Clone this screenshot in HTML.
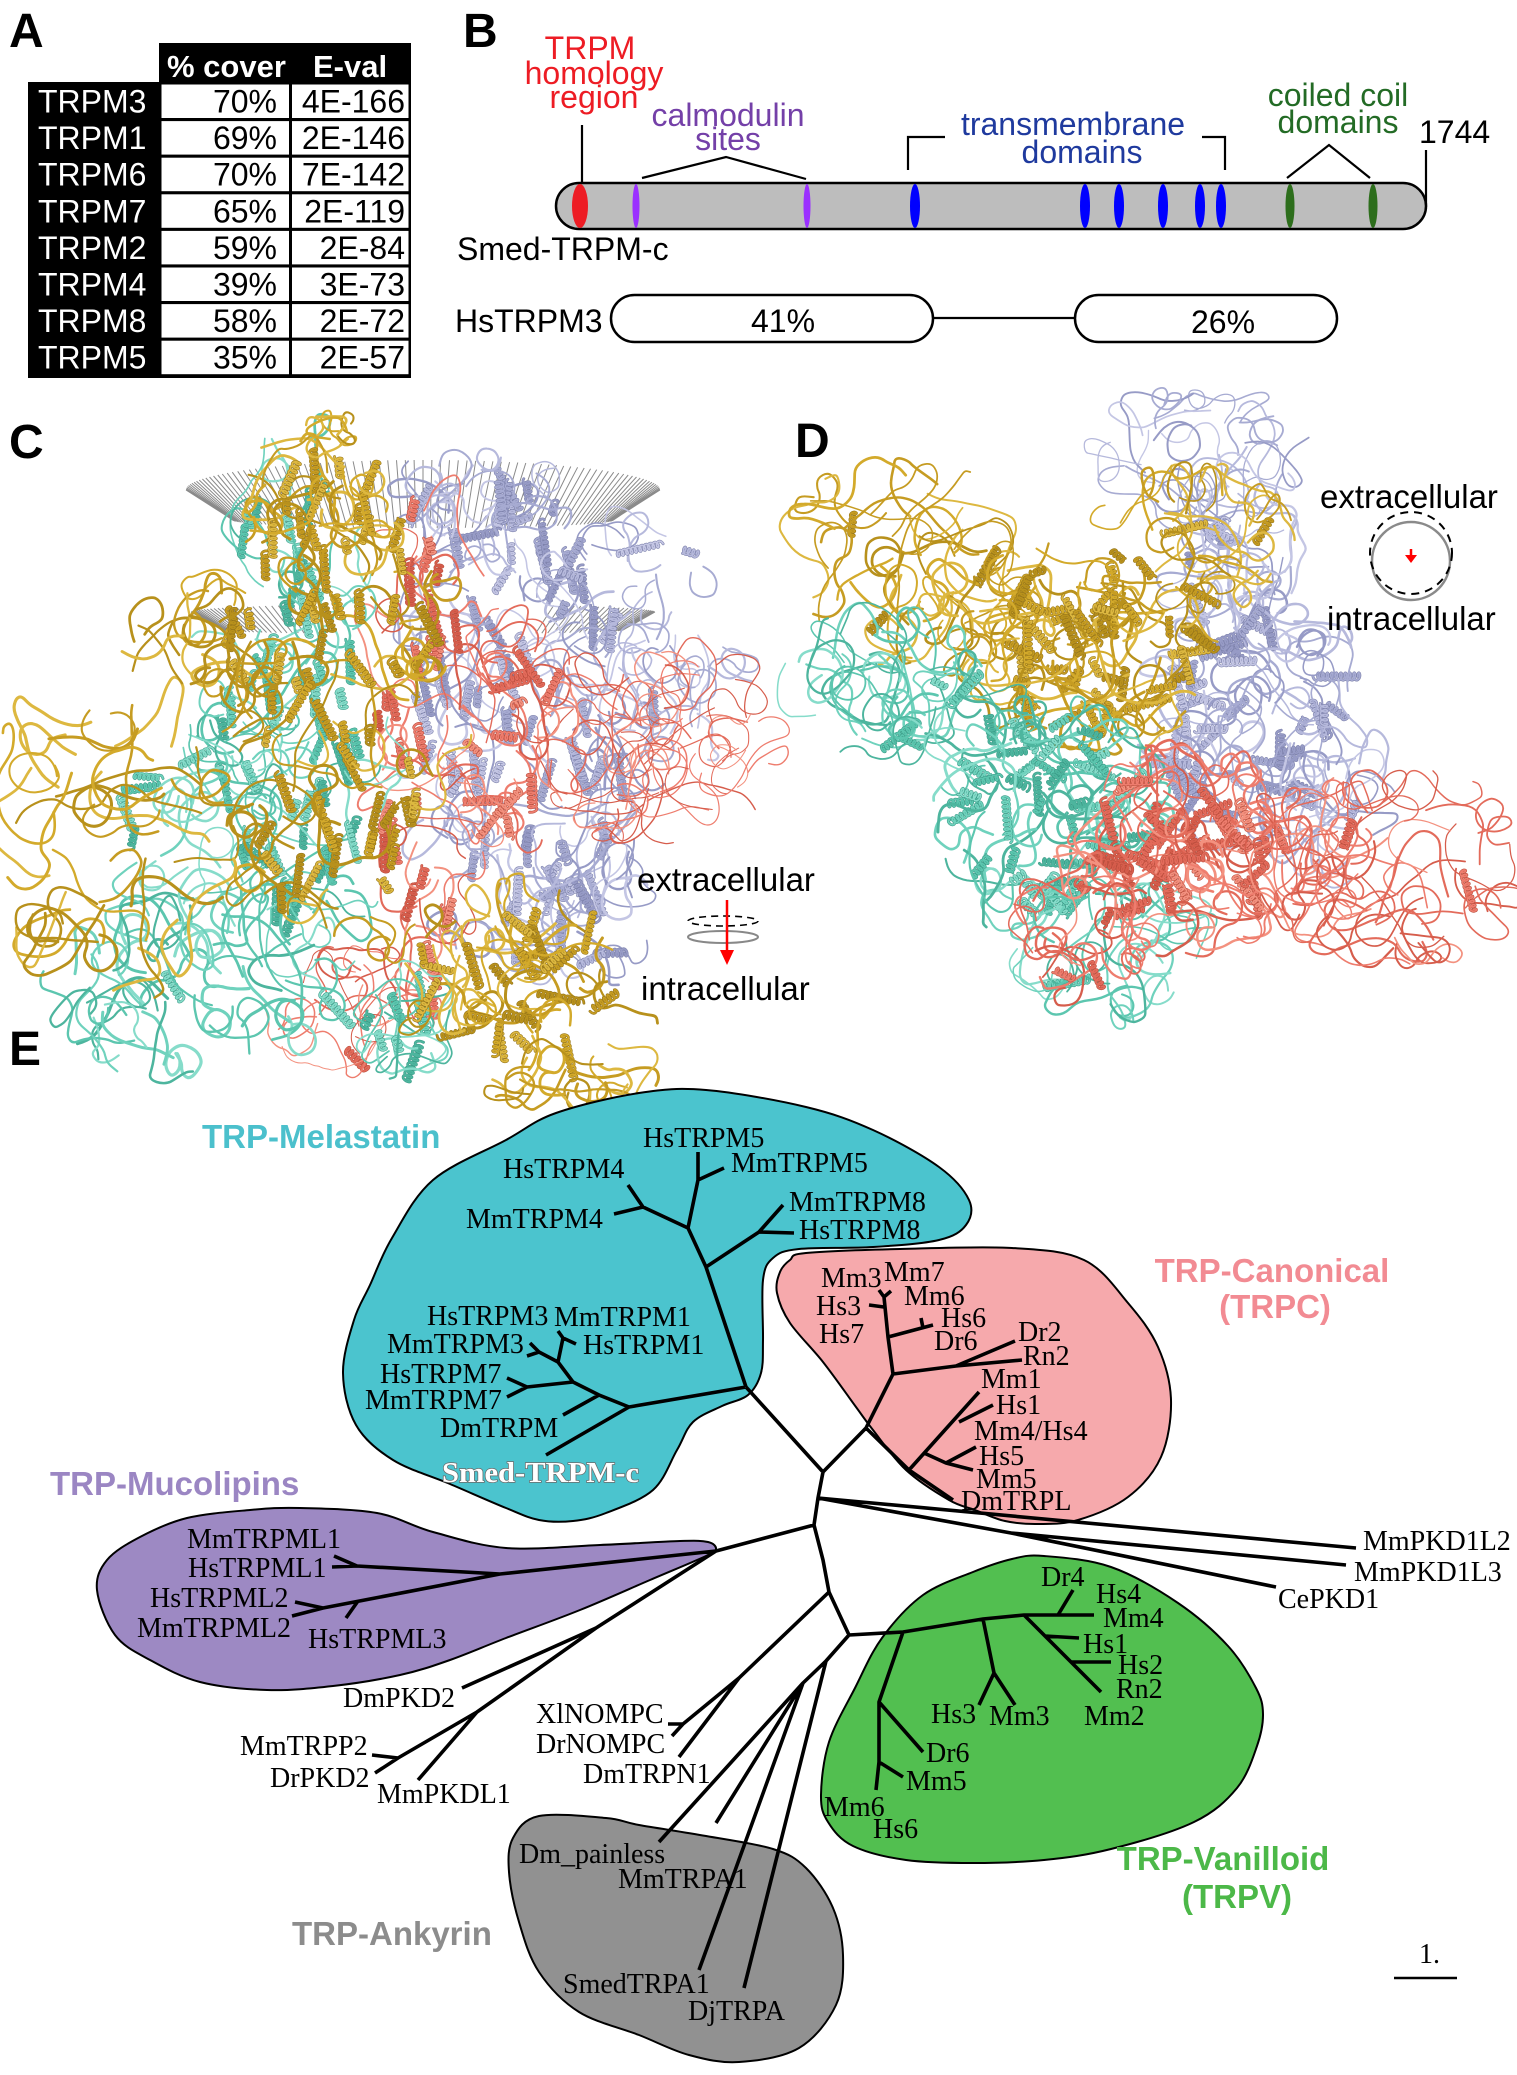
<!DOCTYPE html>
<html><head><meta charset="utf-8">
<style>
html,body{margin:0;padding:0;background:#fff;}
svg{display:block;}
.s{font-family:"Liberation Sans",Arial,sans-serif;}
.t{font-family:"Liberation Serif","Times New Roman",serif;font-size:28px;fill:#000;}
.g{font-family:"Liberation Sans",Arial,sans-serif;font-weight:bold;font-size:33px;}
.w{fill:#fff;font-family:"Liberation Sans",Arial,sans-serif;font-size:32px;}
.k{fill:#000;font-family:"Liberation Sans",Arial,sans-serif;font-size:32px;}
</style></head><body>
<svg width="1517" height="2075" viewBox="0 0 1517 2075" xmlns="http://www.w3.org/2000/svg">
<rect x="0" y="0" width="1517" height="2075" fill="#fff"/>

<!-- ================= PANEL A ================= -->
<text x="9" y="47" class="s" font-weight="bold" font-size="48">A</text>
<rect x="159" y="43" width="252" height="335" fill="#000"/>
<rect x="28" y="82" width="133" height="296" fill="#000"/>
<g fill="#fff">
<rect x="161.5" y="84.5" width="127.5" height="33.5"/><rect x="292" y="84.5" width="116.5" height="33.5"/>
<rect x="161.5" y="121.1" width="127.5" height="33.5"/><rect x="292" y="121.1" width="116.5" height="33.5"/>
<rect x="161.5" y="157.7" width="127.5" height="33.5"/><rect x="292" y="157.7" width="116.5" height="33.5"/>
<rect x="161.5" y="194.3" width="127.5" height="33.5"/><rect x="292" y="194.3" width="116.5" height="33.5"/>
<rect x="161.5" y="230.9" width="127.5" height="33.5"/><rect x="292" y="230.9" width="116.5" height="33.5"/>
<rect x="161.5" y="267.5" width="127.5" height="33.5"/><rect x="292" y="267.5" width="116.5" height="33.5"/>
<rect x="161.5" y="304.1" width="127.5" height="33.5"/><rect x="292" y="304.1" width="116.5" height="33.5"/>
<rect x="161.5" y="340.7" width="127.5" height="33.5"/><rect x="292" y="340.7" width="116.5" height="33.5"/>
</g>
<text x="167" y="77" class="s" font-weight="bold" font-size="31" fill="#fff">% cover</text>
<text x="313" y="77" class="s" font-weight="bold" font-size="31" fill="#fff">E-val</text>
<g class="w">
<text x="38" y="112.5">TRPM3</text><text x="38" y="149.1">TRPM1</text><text x="38" y="185.7">TRPM6</text><text x="38" y="222.3">TRPM7</text>
<text x="38" y="258.9">TRPM2</text><text x="38" y="295.5">TRPM4</text><text x="38" y="332.1">TRPM8</text><text x="38" y="368.7">TRPM5</text>
</g>
<g class="k" text-anchor="end">
<text x="277" y="112.5">70%</text><text x="277" y="149.1">69%</text><text x="277" y="185.7">70%</text><text x="277" y="222.3">65%</text>
<text x="277" y="258.9">59%</text><text x="277" y="295.5">39%</text><text x="277" y="332.1">58%</text><text x="277" y="368.7">35%</text>
<text x="405" y="112.5">4E-166</text><text x="405" y="149.1">2E-146</text><text x="405" y="185.7">7E-142</text><text x="405" y="222.3">2E-119</text>
<text x="405" y="258.9">2E-84</text><text x="405" y="295.5">3E-73</text><text x="405" y="332.1">2E-72</text><text x="405" y="368.7">2E-57</text>
</g>

<!-- ================= PANEL B ================= -->
<text x="463" y="47" class="s" font-weight="bold" font-size="48">B</text>
<g class="s" font-size="32" text-anchor="middle">
<text x="590" y="59" fill="#ed1c24">TRPM</text>
<text x="594" y="84" fill="#ed1c24">homology</text>
<text x="594" y="108" fill="#ed1c24">region</text>
<text x="728" y="126" fill="#7440a8">calmodulin</text>
<text x="728" y="150" fill="#7440a8">sites</text>
<text x="1073" y="135" fill="#1f3a9e">transmembrane</text>
<text x="1082" y="163" fill="#1f3a9e">domains</text>
<text x="1338" y="106" fill="#236b25">coiled coil</text>
<text x="1338" y="133" fill="#236b25">domains</text>
</g>
<text x="1419" y="143" class="k" font-size="31">1744</text>
<g stroke="#000" stroke-width="2.2" fill="none">
<path d="M582 125 L582 185"/>
<path d="M642 178 L726 157 L806 179"/>
<path d="M908 170 L908 137 L945 137"/>
<path d="M1202 137 L1225 137 L1225 170"/>
<path d="M1287 178 L1329 145 L1370 178"/>
<path d="M1426 150 L1426 207"/>
</g>
<rect x="556" y="183" width="870" height="46" rx="23" ry="23" fill="#bdbdbd" stroke="#000" stroke-width="2.5"/>
<ellipse cx="580" cy="206" rx="8" ry="22" fill="#ed1c24"/>
<ellipse cx="636" cy="206" rx="3.5" ry="22" fill="#9b30ff"/>
<ellipse cx="807" cy="206" rx="3.5" ry="22" fill="#9b30ff"/>
<g fill="#0000ff">
<ellipse cx="915" cy="206" rx="5" ry="22"/><ellipse cx="1085" cy="206" rx="5" ry="22"/><ellipse cx="1119" cy="206" rx="5" ry="22"/>
<ellipse cx="1163" cy="206" rx="5" ry="22"/><ellipse cx="1200" cy="206" rx="5" ry="22"/><ellipse cx="1221" cy="206" rx="5" ry="22"/>
</g>
<ellipse cx="1290" cy="206" rx="4.5" ry="22" fill="#2d6e1c"/>
<ellipse cx="1373" cy="206" rx="4.5" ry="22" fill="#2d6e1c"/>
<text x="457" y="260" class="k">Smed-TRPM-c</text>
<text x="455" y="332" class="k">HsTRPM3</text>
<rect x="611" y="295" width="322" height="47" rx="23.5" ry="23.5" fill="#fff" stroke="#000" stroke-width="2.5"/>
<path d="M933 318 L1075 318" stroke="#000" stroke-width="2.2"/>
<rect x="1075" y="295" width="262" height="47" rx="23.5" ry="23.5" fill="#fff" stroke="#000" stroke-width="2.5"/>
<text x="783" y="332" class="k" text-anchor="middle">41%</text>
<text x="1223" y="333" class="k" text-anchor="middle">26%</text>

<!-- ================= PANELS C / D ================= -->
<text x="9" y="458" class="s" font-weight="bold" font-size="48">C</text>
<text x="795" y="457" class="s" font-weight="bold" font-size="48">D</text>
<path id="hatch" d="" stroke="#8a8a8a" stroke-width="1" fill="none"/>
<g id="pC"></g>
<g id="pD"></g>

<text x="637" y="891" class="s" font-size="33">extracellular</text>
<text x="641" y="1000" class="s" font-size="33">intracellular</text>
<ellipse cx="723" cy="921" rx="35" ry="5" fill="none" stroke="#000" stroke-width="1.6" stroke-dasharray="7 5"/>
<ellipse cx="723" cy="937" rx="35" ry="6" fill="none" stroke="#888" stroke-width="2"/>
<path d="M727 900 L727 952" stroke="#ff0000" stroke-width="2.5"/>
<path d="M720 950 L734 950 L727 965 Z" fill="#ff0000"/>

<text x="1320" y="508" class="s" font-size="33">extracellular</text>
<text x="1327" y="630" class="s" font-size="33">intracellular</text>
<circle cx="1411" cy="561" r="39" fill="none" stroke="#8a8a8a" stroke-width="2.5"/>
<circle cx="1411" cy="553" r="41" fill="none" stroke="#000" stroke-width="2" stroke-dasharray="8 6"/>
<path d="M1411 549 L1411 557" stroke="#ff0000" stroke-width="2.5"/>
<path d="M1405 555 L1417 555 L1411 563 Z" fill="#ff0000"/>

<!-- ================= PANEL E ================= -->
<text x="9" y="1065" class="s" font-weight="bold" font-size="48">E</text>

<g stroke="#000" stroke-width="2" stroke-linejoin="round">
<path id="bTeal" fill="#4bc4ce" d="M506 1140 L556 1113 L639 1093 L706 1090 L806 1107 L873 1130 L939 1167 L969 1200 L966 1225 L939 1240 L873 1247 L799 1249 L773 1258 L763 1280 L763 1340 L761 1373 L748 1395 L722 1406 L693 1422 L677 1450 L653 1490 L606 1513 L573 1521 L539 1520 L506 1508 L450 1484 L393 1460 L356 1425 L343 1373 L354 1320 L370 1285 L392 1238 L433 1180 Z"/>
<path id="bPink" fill="#f6a9ac" d="M806 1253 L900 1249 L1012 1248 L1084 1260 L1128 1303 L1158 1347 L1171 1400 L1161 1457 L1128 1497 L1078 1520 L1038 1524 L1005 1521 L975 1510 L949 1500 L906 1470 L873 1430 L856 1407 L823 1362 L790 1323 L777 1293 L780 1272 L790 1260 Z"/>
<path id="bPurp" fill="#9d89c3" d="M97 1590 L107 1560 L140 1537 L187 1518 L250 1510 L300 1508 L377 1513 L433 1532 L506 1548 L600 1545 L680 1541 L708 1542 L716 1549 L706 1556 L650 1580 L580 1610 L506 1638 L450 1660 L400 1675 L333 1686 L267 1690 L200 1682 L150 1660 L115 1635 Z"/>
<path id="bGreen" fill="#52bf50" d="M923 1595 L973 1572 L1012 1559 L1044 1556 L1111 1567 L1178 1603 L1228 1646 L1256 1688 L1263 1714 L1257 1746 L1237 1788 L1194 1822 L1111 1849 L1044 1860 L973 1863 L906 1860 L853 1846 L828 1822 L821 1795 L829 1742 L855 1688 L882 1638 Z"/>
<path id="bGray" fill="#919191" d="M513 1838 L539 1816 L606 1818 L639 1825 L706 1836 L773 1849 L806 1868 L833 1908 L843 1955 L836 2005 L799 2048 L739 2062 L689 2055 L639 2035 L579 2012 L539 1972 L519 1922 L509 1872 Z"/>
</g>

<path fill="none" stroke="#000" stroke-width="3.6" stroke-linejoin="round" stroke-linecap="butt" d="
M746 1387 L823 1472 L818 1498 L814 1525 L823 1560 L829 1592 L849 1635
M746 1387 L706 1267 L688 1228 L698 1180 L698 1152
M698 1180 L724 1168
M688 1228 L643 1207 L628 1185
M643 1207 L614 1214
M706 1267 L759 1232 L783 1205
M759 1232 L794 1233
M746 1387 L629 1407 L546 1455
M629 1407 L599 1395 L563 1415
M599 1395 L573 1382 L527 1387 L507 1378
M527 1387 L507 1397
M573 1382 L558 1362 L539 1352 L530 1343
M539 1352 L527 1356
M558 1362 L563 1338 L558 1331
M563 1338 L576 1344
M823 1472 L866 1428 L893 1374
M893 1374 L956 1366 L1015 1341
M956 1366 L1022 1360
M893 1374 L888 1337 L884 1297 L879 1290
M884 1297 L891 1291
M884 1307 L869 1305
M888 1337 L933 1325
M923 1328 L921 1318
M866 1428 L909 1470 L953 1500
M909 1470 L979 1392
M959 1422 L993 1405
M924 1453 L946 1463 L976 1447
M946 1463 L973 1470
M818 1498 L1356 1548
M818 1498 L1011 1533 L1346 1565
M1011 1533 L1276 1587
M814 1525 L716 1551 L500 1574 L357 1566 L334 1556
M357 1566 L332 1567
M500 1574 L323 1608 L295 1602
M323 1608 L292 1616
M358 1601 L346 1618
M716 1551 L596 1628 L462 1688
M596 1628 L477 1712 L398 1758 L372 1755
M398 1758 L375 1773
M477 1712 L418 1780
M829 1592 L739 1678 L683 1724 L668 1724
M683 1724 L672 1736
M739 1678 L679 1757
M849 1635 L826 1661 L803 1683 L659 1842
M803 1683 L716 1823
M803 1683 L699 1970
M826 1661 L744 1988
M849 1635 L903 1632 L983 1619 L1024 1615 L1094 1615
M1058 1615 L1073 1590
M1024 1615 L1101 1692
M1045 1636 L1079 1638
M1071 1662 L1111 1662
M983 1619 L994 1673 L979 1705
M994 1673 L1015 1705
M903 1632 L879 1702 L923 1752
M879 1702 L879 1762 L903 1777
M879 1762 L876 1790
"/>
<path d="M1394 1978 L1457 1978" stroke="#000" stroke-width="2.5"/>
<text x="1419" y="1963" class="t" font-size="34">1.</text>

<g class="t">
<text x="643" y="1147">HsTRPM5</text>
<text x="731" y="1172">MmTRPM5</text>
<text x="503" y="1178">HsTRPM4</text>
<text x="466" y="1228">MmTRPM4</text>
<text x="789" y="1211">MmTRPM8</text>
<text x="799" y="1239">HsTRPM8</text>
<text x="427" y="1325">HsTRPM3</text>
<text x="554" y="1326">MmTRPM1</text>
<text x="387" y="1353">MmTRPM3</text>
<text x="583" y="1354">HsTRPM1</text>
<text x="380" y="1383">HsTRPM7</text>
<text x="365" y="1409">MmTRPM7</text>
<text x="440" y="1437">DmTRPM</text>
<text x="821" y="1287">Mm3</text>
<text x="884" y="1281">Mm7</text>
<text x="904" y="1305">Mm6</text>
<text x="816" y="1315">Hs3</text>
<text x="941" y="1327">Hs6</text>
<text x="819" y="1343">Hs7</text>
<text x="934" y="1350">Dr6</text>
<text x="1018" y="1341">Dr2</text>
<text x="1023" y="1365">Rn2</text>
<text x="981" y="1388">Mm1</text>
<text x="996" y="1414">Hs1</text>
<text x="974" y="1440">Mm4/Hs4</text>
<text x="979" y="1465">Hs5</text>
<text x="976" y="1488">Mm5</text>
<text x="961" y="1510">DmTRPL</text>
<text x="187" y="1548">MmTRPML1</text>
<text x="188" y="1577">HsTRPML1</text>
<text x="150" y="1607">HsTRPML2</text>
<text x="137" y="1637">MmTRPML2</text>
<text x="308" y="1648">HsTRPML3</text>
<text x="1363" y="1550">MmPKD1L2</text>
<text x="1354" y="1581">MmPKD1L3</text>
<text x="1278" y="1608">CePKD1</text>
<text x="343" y="1707">DmPKD2</text>
<text x="240" y="1755">MmTRPP2</text>
<text x="270" y="1787">DrPKD2</text>
<text x="377" y="1803">MmPKDL1</text>
<text x="536" y="1723">XlNOMPC</text>
<text x="536" y="1753">DrNOMPC</text>
<text x="583" y="1783">DmTRPN1</text>
<text x="519" y="1863">Dm_painless</text>
<text x="618" y="1888">MmTRPA1</text>
<text x="563" y="1993">SmedTRPA1</text>
<text x="688" y="2020">DjTRPA</text>
<text x="1041" y="1586">Dr4</text>
<text x="1096" y="1603">Hs4</text>
<text x="1103" y="1627">Mm4</text>
<text x="1083" y="1653">Hs1</text>
<text x="1118" y="1674">Hs2</text>
<text x="1116" y="1698">Rn2</text>
<text x="1084" y="1725">Mm2</text>
<text x="931" y="1723">Hs3</text>
<text x="989" y="1725">Mm3</text>
<text x="926" y="1762">Dr6</text>
<text x="906" y="1790">Mm5</text>
<text x="824" y="1816">Mm6</text>
<text x="873" y="1838">Hs6</text>
</g>
<text x="442" y="1482" font-family="'Liberation Serif','Times New Roman',serif" font-weight="bold" font-size="28" fill="#ffffff" stroke="#6a6a6a" stroke-width="1.4" paint-order="stroke" textLength="197" lengthAdjust="spacingAndGlyphs">Smed-TRPM-c</text>

<text x="202" y="1148" class="g" fill="#4bc0cc">TRP-Melastatin</text>
<text x="1272" y="1282" class="g" fill="#f28b93" text-anchor="middle">TRP-Canonical</text>
<text x="1275" y="1318" class="g" fill="#f28b93" text-anchor="middle">(TRPC)</text>
<text x="50" y="1495" class="g" fill="#9b86c3">TRP-Mucolipins</text>
<text x="292" y="1945" class="g" fill="#8c8c8c">TRP-Ankyrin</text>
<text x="1223" y="1870" class="g" fill="#4cb848" text-anchor="middle">TRP-Vanilloid</text>
<text x="1237" y="1908" class="g" fill="#4cb848" text-anchor="middle">(TRPV)</text>
</svg>

<script>
(function(){
var NS='http://www.w3.org/2000/svg';
var seed=987654321;
function R(){seed=(Math.imul(seed,1664525)+1013904223)>>>0;return seed/4294967296;}
function f(v){return v.toFixed(1);}
function sm(pts){var d='M'+f(pts[0][0])+' '+f(pts[0][1]);if(pts.length<3){for(var i=1;i<pts.length;i++)d+='L'+f(pts[i][0])+' '+f(pts[i][1]);return d;}
for(var i=1;i<pts.length-1;i++){var mx=(pts[i][0]+pts[i+1][0])/2,my=(pts[i][1]+pts[i+1][1])/2;d+='Q'+f(pts[i][0])+' '+f(pts[i][1])+' '+f(mx)+' '+f(my);}
var l=pts[pts.length-1];d+='L'+f(l[0])+' '+f(l[1]);return d;}
function mk(g,d,col,w){var p=document.createElementNS(NS,'path');p.setAttribute('d',d);p.setAttribute('stroke',col);p.setAttribute('stroke-width',w.toFixed(2));p.setAttribute('fill','none');p.setAttribute('stroke-linecap','round');p.setAttribute('stroke-linejoin','round');g.appendChild(p);}
var PAL={g:['#d3aa2b','#c69c22','#ddb840','#b8911c'],t:['#6fd2bd','#5cc6af','#86dcca','#4db59e'],s:['#ee7d6e','#e36b5b','#f3917f','#d65d4c'],l:['#b6b9dc','#a7abd2','#c4c6e4','#979bc6']};
var DARK={g:'#94741a',t:'#3a9a86',s:'#b84c3b',l:'#7c80aa'};
function pick(c){var a=PAL[c];return a[Math.floor(R()*a.length)];}
function inE(s){var a=R()*6.2832,r=Math.sqrt(R());return [s.x+Math.cos(a)*r*s.rx,s.y+Math.sin(a)*r*s.ry];}
function coil(g,s){var p=inE(s),ang=R()*6.2832,om=(R()-0.5)*0.6,pts=[[p[0],p[1]]];var ln=s.len||[8,24];var n=ln[0]+R()*(ln[1]-ln[0]);var st=s.st||7;
for(var i=0;i<n;i++){om+=(R()-0.5)*0.6;if(om>0.6)om=0.6;if(om<-0.6)om=-0.6;if(R()<0.08)om*=-1;ang+=om;
var ex=(p[0]-s.x)/s.rx,ey=(p[1]-s.y)/s.ry;
if(ex*ex+ey*ey>1.5){var ta=Math.atan2(s.y-p[1],s.x-p[0]);var da=ta-ang;while(da>Math.PI)da-=6.2832;while(da<-Math.PI)da+=6.2832;ang+=da*0.35;}
var l=st*(0.6+R()*0.8);p[0]+=Math.cos(ang)*l;p[1]+=Math.sin(ang)*l;pts.push([p[0],p[1]]);}
var w=s.w[0]+R()*(s.w[1]-s.w[0]);mk(g,sm(pts),pick(s.c),w);}
function helix(g,s){var p=inE(s);var base=(s.ha!==undefined?s.ha+(R()-0.5)*(s.hs||1):R()*6.2832);
var dx=Math.cos(base),dy=Math.sin(base),px=-dy,py=dx;var L=14+R()*34;var amp=3+R()*1.5,om=0.7,k=0.5,c=2.2;var pts=[];
for(var t=0;t*k<=L;t+=1.0){var ph=t*om;var u=t*k-L/2+c*Math.cos(ph),v=amp*Math.sin(ph);pts.push([p[0]+dx*u+px*v,p[1]+dy*u+py*v]);}
var d=sm(pts);mk(g,d,DARK[s.c],2.8);mk(g,d,pick(s.c),1.7);}
function run(gid,spec,mult){var g=document.getElementById(gid);spec.forEach(function(s){var n=Math.round(s.n*mult);for(var i=0;i<n;i++){if(R()<(s.h||0))helix(g,s);else coil(g,s);}});}

/* membrane hatch in C */
var hd='';
for(var i=0;i<=84;i++){var th=Math.PI*i/84,c=Math.cos(th),s=Math.sin(th);
hd+='M'+f(423+237*c)+' '+f(490-30*s)+'L'+f(423+190*c)+' '+f(520+8*s);}
for(var i=0;i<=84;i++){var th=Math.PI*i/84,c=Math.cos(th),s=Math.sin(th);if(Math.abs(c)<0.55)continue;
hd+='M'+f(423+232*c)+' '+f(612-8*s)+'L'+f(423+200*c)+' '+f(630+4*s);}
document.getElementById('hatch').setAttribute('d',hd);

var C=[
{c:'l',x:525,y:720,rx:105,ry:240,n:100,h:0.45,ha:-1.57,hs:1.2,w:[1.5,2.8]},
{c:'l',x:640,y:650,rx:90,ry:120,n:30,h:0.1,w:[1.3,2.3]},
{c:'l',x:480,y:500,rx:70,ry:45,n:16,h:0.2,w:[1.5,2.5]},
{c:'l',x:590,y:880,rx:50,ry:90,n:22,h:0.3,w:[1.5,2.8]},
{c:'s',x:420,y:760,rx:45,ry:260,n:45,h:0.55,ha:-1.57,hs:0.6,w:[1.2,2.3]},
{c:'s',x:660,y:740,rx:100,ry:85,n:40,h:0.03,w:[1,1.6],st:8},
{c:'s',x:510,y:740,rx:55,ry:110,n:28,h:0.45,w:[1.2,2.3]},
{c:'s',x:350,y:1010,rx:70,ry:50,n:14,h:0.1,w:[1,2]},
{c:'t',x:300,y:700,rx:85,ry:230,n:75,h:0.45,ha:-1.57,hs:1.0,w:[1.5,2.8]},
{c:'t',x:210,y:985,rx:135,ry:75,n:34,h:0.08,w:[2,3.2],st:8},
{c:'t',x:190,y:820,rx:70,ry:120,n:22,h:0.15,w:[1.5,2.8]},
{c:'t',x:405,y:1020,rx:40,ry:45,n:14,h:0.5,ha:-1.57,w:[1.5,2.8]},
{c:'g',x:330,y:700,rx:110,ry:240,n:85,h:0.55,ha:-1.57,hs:1.4,w:[2,3.2]},
{c:'g',x:320,y:505,rx:60,ry:55,n:20,h:0.5,ha:-1.57,w:[2,3]},
{c:'g',x:110,y:830,rx:100,ry:140,n:24,h:0.02,w:[2,3.2],st:9},
{c:'g',x:200,y:650,rx:70,ry:60,n:12,h:0.05,w:[2,3],st:8},
{c:'g',x:520,y:985,rx:110,ry:85,n:45,h:0.4,w:[2,3.2]},
{c:'g',x:570,y:1075,rx:70,ry:30,n:10,h:0.05,w:[2,3]},
{c:'g',x:330,y:437,rx:18,ry:20,n:4,h:0,w:[2,3],st:6}
];
var D=[
{c:'l',x:1200,y:455,rx:90,ry:50,n:22,h:0.02,w:[1.2,2.2],st:8},
{c:'l',x:1235,y:580,rx:60,ry:80,n:26,h:0.2,w:[1.3,2.4]},
{c:'l',x:1250,y:720,rx:95,ry:115,n:70,h:0.45,w:[1.5,2.8]},
{c:'l',x:1330,y:800,rx:55,ry:65,n:18,h:0.15,w:[1.5,2.5],st:8},
{c:'g',x:900,y:560,rx:100,ry:80,n:24,h:0.03,w:[1.5,2.8],st:9},
{c:'g',x:990,y:610,rx:55,ry:55,n:14,h:0.1,w:[1.5,2.8]},
{c:'g',x:1090,y:640,rx:110,ry:90,n:80,h:0.45,w:[2,3]},
{c:'g',x:1190,y:540,rx:80,ry:60,n:22,h:0.1,w:[1.5,2.5],st:8},
{c:'t',x:880,y:680,rx:80,ry:60,n:22,h:0.05,w:[1.5,2.8],st:9},
{c:'t',x:965,y:730,rx:60,ry:55,n:18,h:0.2,w:[1.5,2.8]},
{c:'t',x:1050,y:820,rx:95,ry:100,n:75,h:0.45,w:[2,3]},
{c:'t',x:1115,y:950,rx:85,ry:55,n:22,h:0.05,w:[1.5,2.5],st:8},
{c:'s',x:1190,y:850,rx:95,ry:85,n:75,h:0.45,w:[1.5,2.8]},
{c:'s',x:1300,y:860,rx:60,ry:55,n:14,h:0.1,w:[1.2,2.2]},
{c:'s',x:1395,y:870,rx:110,ry:75,n:34,h:0.03,w:[1.2,2.2],st:9},
{c:'s',x:1080,y:925,rx:55,ry:60,n:20,h:0.1,w:[1.5,2.5]}
];
run('pC',C,1.25);
run('pD',D,1.15);

/* smooth blobs */
['bTeal','bPink','bPurp','bGreen','bGray'].forEach(function(id){var el=document.getElementById(id);
var nums=el.getAttribute('d').match(/-?\d+(\.\d+)?/g).map(Number);var P=[];for(var i=0;i+1<nums.length;i+=2)P.push([nums[i],nums[i+1]]);
var n=P.length,d='M'+P[0][0]+' '+P[0][1];
for(var i=0;i<n;i++){var p0=P[(i-1+n)%n],p1=P[i],p2=P[(i+1)%n],p3=P[(i+2)%n];
d+='C'+f(p1[0]+(p2[0]-p0[0])/6)+' '+f(p1[1]+(p2[1]-p0[1])/6)+' '+f(p2[0]-(p3[0]-p1[0])/6)+' '+f(p2[1]-(p3[1]-p1[1])/6)+' '+p2[0]+' '+p2[1];}
el.setAttribute('d',d+'Z');});
})();
</script>
</body></html>
